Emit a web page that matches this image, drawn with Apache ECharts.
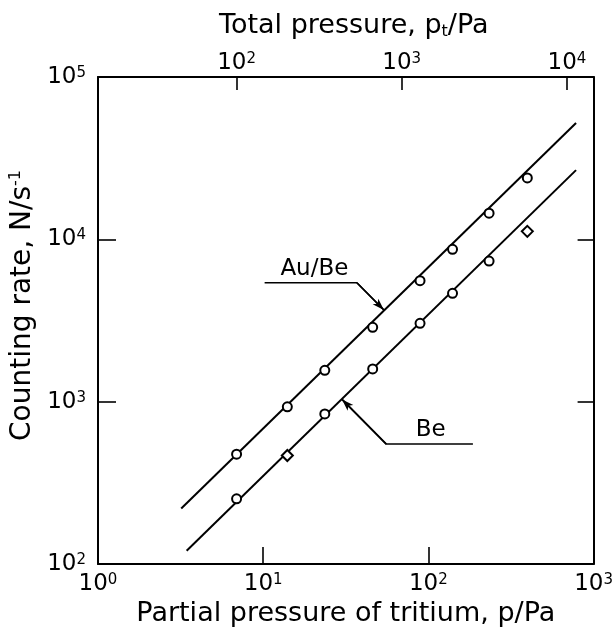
<!DOCTYPE html>
<html><head><meta charset="utf-8">
<script src="https://cdn.jsdelivr.net/npm/echarts@6/dist/echarts.min.js"></script>
<style>html,body{margin:0;padding:0;background:#fff}#c{width:616px;height:633px}</style>
</head><body><div id="c"></div>
<script>
// ---- data ----
const partialPressure = [6.9, 14, 23.6, 46, 89, 140, 233, 397];
const auBeRate = [475, 930, 1560, 2870, 5560, 8680, 14500, 23900];
const beRate = [252, 466, 840, 1590, 3040, 4650, 7350, 11200];
const auBeFitP = [3.19, 783];
const auBeFitN = [220, 52100];
const beFitP = [3.44, 783];
const beFitN = [120.6, 26700];
const auBeLeaderP = [10.2, 36.9, 53.8];
const auBeLeaderN = [5400, 5400, 3667];
const beLeaderP = [186, 55.6, 30.0];
const beLeaderN = [548, 548, 1033];
const annotationNames = ['Au/Be', 'Be'];
const topTickExponents = [2, 3, 4];
const totalToPartial = 14.5;
const xRange = [1, 1000];
const yRange = [100, 100000];

const FONT = 'DejaVu Sans';
const black = '#000';
const pairs = (xs, ys) => xs.map((x, i) => [x, ys[i]]);
const supRich = {
  base: { fontSize: 23, fontFamily: FONT, color: black, padding: [6, 0, 0, 0], lineHeight: 23, verticalAlign: 'bottom' },
  sup: { fontSize: 15, fontFamily: FONT, color: black, lineHeight: 15, verticalAlign: 'top' }
};
const expFmt = v => '{base|10}{sup|' + Math.round(Math.log10(v)) + '}';

const chart = echarts.init(document.getElementById('c'), null, { renderer: 'canvas' });

function leaderSeries(xs, ys, name, alignSide, offset) {
  const d = pairs(xs, ys);
  return {
    type: 'line', xAxisIndex: 0, yAxisIndex: 0, symbol: 'none', silent: true,
    data: d.map((p, i) => i === 1 ? {
      value: p, symbol: 'circle', symbolSize: 1, itemStyle: { color: 'rgba(0,0,0,0)' },
      label: { show: true, formatter: name, position: [0, 0], align: alignSide, verticalAlign: 'bottom', offset: offset,
        fontSize: 23, fontFamily: FONT, color: '#000', opacity: 1, textBorderWidth: 0 }
    } : p),
    showAllSymbol: true,
    lineStyle: { color: black, width: 1.6 }, z: 3,
    markLine: {
      silent: true, animation: false,
      symbol: ['none', 'arrow'], symbolSize: [6, 12],
      lineStyle: { color: black, width: 1.6, type: 'solid' },
      itemStyle: { color: black },
      label: { show: false },
      data: [[{ coord: d[1] }, { coord: d[2] }]]
    }
  };
}

const option = {
  animation: false,
  backgroundColor: '#fff',
  textStyle: { fontFamily: FONT, color: black },
  grid: { left: 98, right: 13, top: 77, bottom: 69, containLabel: false },
  xAxis: [
    {
      type: 'log', logBase: 10, min: xRange[0], max: xRange[1], position: 'bottom',
      name: 'Partial pressure of tritium, p/Pa', nameLocation: 'middle', nameGap: 36,
      nameTextStyle: { fontSize: 27, color: black, fontFamily: FONT },
      axisLine: { show: true, lineStyle: { color: black, width: 2 } },
      axisTick: { show: true, inside: true, length: 17, lineStyle: { color: black, width: 1.6 } },
      minorTick: { show: false }, splitLine: { show: false },
      axisLabel: { show: true, margin: 9, fontSize: 23, color: black, formatter: expFmt, rich: supRich, showMinLabel: true, showMaxLabel: true }
    },
    {
      type: 'value', min: Math.log10(xRange[0] * totalToPartial), max: Math.log10(xRange[1] * totalToPartial),
      position: 'top',
      name: 'Total pressure, p{sub|t}/Pa', nameLocation: 'middle', nameGap: 37,
      nameTextStyle: { fontSize: 27, color: black, fontFamily: FONT, padding: [0, 0, 0, 16],
        rich: { sub: { fontSize: 16, fontFamily: FONT, color: black, verticalAlign: 'bottom', padding: [12, 0, 0, 0] } } },
      axisLine: { show: true, lineStyle: { color: black, width: 2 } },
      axisTick: { show: true, inside: true, length: 13, customValues: topTickExponents, lineStyle: { color: black, width: 1.6 } },
      splitLine: { show: false },
      axisLabel: { show: true, margin: 2, fontSize: 23, color: black, customValues: topTickExponents,
        formatter: v => '{base|10}{sup|' + Math.round(v) + '}', rich: supRich }
    }
  ],
  yAxis: [
    {
      type: 'log', logBase: 10, min: yRange[0], max: yRange[1], position: 'left',
      name: 'Counting rate, N/s{sup|-1}', nameLocation: 'middle', nameGap: 60, nameRotate: 90,
      nameTextStyle: { fontSize: 28, color: black, fontFamily: FONT, padding: [0, 0, 0, 30],
        rich: { sup: { fontSize: 16, fontFamily: FONT, color: black, verticalAlign: 'top', padding: [0, 0, 12, 0] } } },
      axisLine: { show: true, lineStyle: { color: black, width: 2 } },
      axisTick: { show: true, inside: true, length: 18, lineStyle: { color: black, width: 1.6 } },
      minorTick: { show: false }, splitLine: { show: false },
      axisLabel: { show: true, margin: 12, fontSize: 23, color: black, formatter: expFmt, rich: supRich, showMinLabel: true, showMaxLabel: true }
    },
    {
      type: 'log', logBase: 10, min: yRange[0], max: yRange[1], position: 'right',
      axisLine: { show: true, lineStyle: { color: black, width: 2 } },
      axisTick: { show: true, inside: true, length: 16, lineStyle: { color: black, width: 1.6 } },
      minorTick: { show: false }, splitLine: { show: false },
      axisLabel: { show: false }
    }
  ],
  series: [
    { type: 'line', name: 'Au/Be fit', data: pairs(auBeFitP, auBeFitN), symbol: 'none', silent: true,
      lineStyle: { color: black, width: 2 }, z: 2 },
    { type: 'line', name: 'Be fit', data: pairs(beFitP, beFitN), symbol: 'none', silent: true,
      lineStyle: { color: black, width: 2 }, z: 2 },
    { type: 'scatter', name: 'Au/Be', data: pairs(partialPressure, auBeRate), symbol: 'circle', symbolSize: 9,
      itemStyle: { color: '#fff', borderColor: black, borderWidth: 2, opacity: 1 }, z: 5 },
    { type: 'scatter', name: 'Be',
      data: pairs(partialPressure, beRate).map((p, i) => ({ value: p, symbol: (i === 1 || i === 7) ? 'diamond' : 'circle', symbolSize: (i === 1 || i === 7) ? 11 : 9 })),
      itemStyle: { color: '#fff', borderColor: black, borderWidth: 2, opacity: 1 }, z: 5 },
    leaderSeries(auBeLeaderP, auBeLeaderN, annotationNames[0], 'right', [-8, -2]),
    leaderSeries(beLeaderP, beLeaderN, annotationNames[1], 'left', [30, -2])
  ]
};
chart.setOption(option);
</script>
</body></html>
